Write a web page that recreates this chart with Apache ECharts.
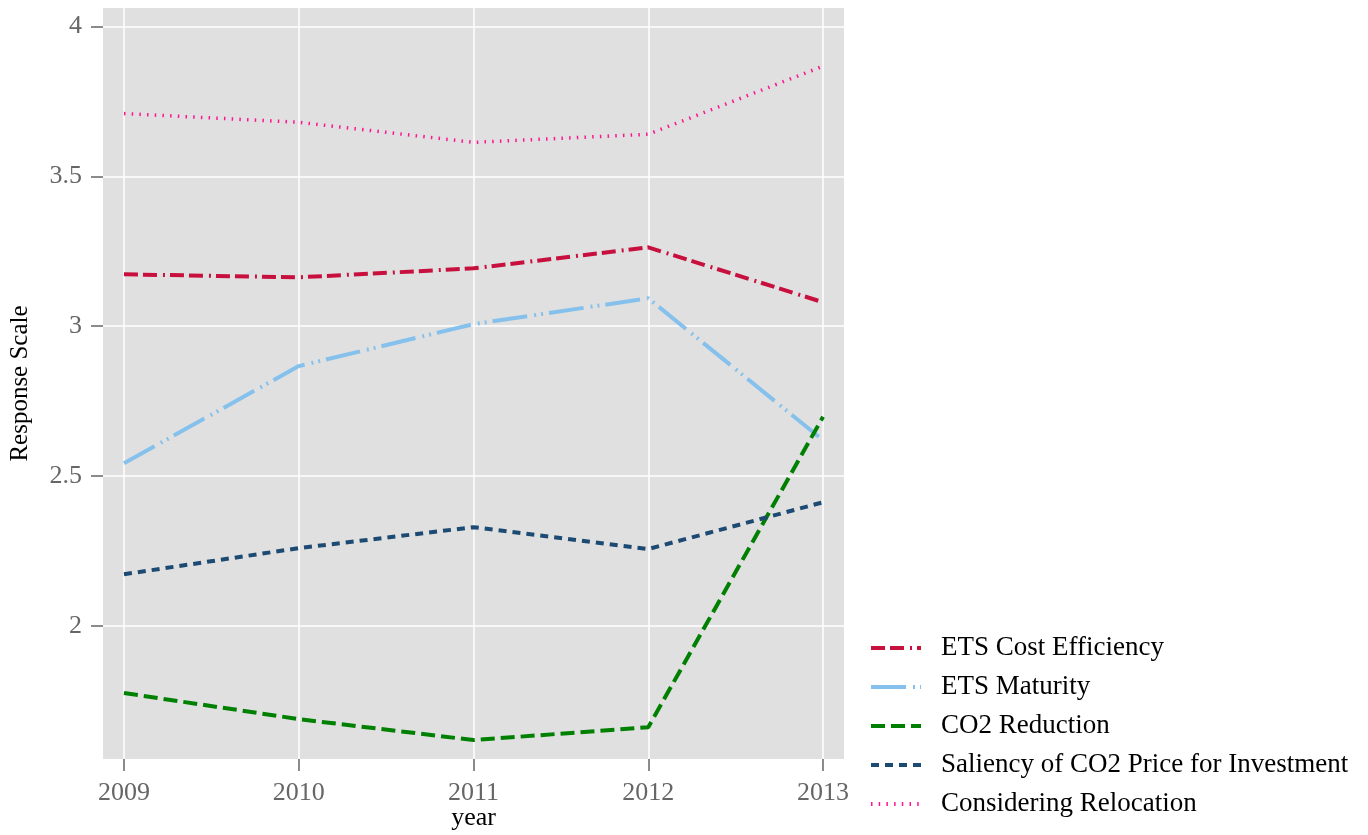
<!DOCTYPE html>
<html>
<head>
<meta charset="utf-8">
<script src="https://cdn.jsdelivr.net/npm/echarts@6/dist/echarts.min.js"></script>
<style>
  html, body { margin: 0; padding: 0; background: #fff; }
  #chart { width: 1368px; height: 835px; }
</style>
</head>
<body>
<div id="chart"></div>
<script>
// values
const years = [2009, 2010, 2011, 2012, 2013]
const yTicks = [2, 2.5, 3, 3.5, 4]
const costEfficiency = [3.173, 3.163, 3.193, 3.263, 3.080]
const maturity = [2.543, 2.867, 3.007, 3.093, 2.620]
const co2Reduction = [1.777, 1.690, 1.620, 1.663, 2.698]
const saliency = [2.173, 2.260, 2.330, 2.257, 2.413]
const relocation = [3.709, 3.680, 3.613, 3.640, 3.867]

const FONT = 'Liberation Serif'
const pairs = (vals) => years.map((y, i) => [y, vals[i]])

const makeSeries = (name, vals, color, width, dash) => ({
    name: name,
    type: 'line',
    data: pairs(vals),
    symbol: 'none',
    clip: false,
    animation: false,
    lineStyle: { color: color, width: width, type: dash, cap: 'butt' },
    itemStyle: { color: color }
})

const chart = echarts.init(document.getElementById('chart'))
chart.setOption({
    backgroundColor: '#fff',
    animation: false,
    grid: {
        left: 103,
        right: 524,
        top: 8,
        bottom: 76,
        outerBoundsMode: 'none',
        containLabel: false,
        show: true,
        backgroundColor: '#E0E0E0',
        borderWidth: 0
    },
    xAxis: {
        type: 'value',
        min: 2008.88,
        max: 2013.12,
        name: 'year',
        nameLocation: 'middle',
        nameGap: 46,
        nameMoveOverlap: false,
        nameTextStyle: { fontFamily: FONT, fontSize: 26, color: '#000' },
        axisLine: { show: false },
        axisTick: { show: true, length: 12, customValues: years, lineStyle: { color: '#666', width: 1.5 } },
        axisLabel: { customValues: years, margin: 21, fontFamily: FONT, fontSize: 26, color: '#666', formatter: (v) => String(v) },
        splitLine: { show: true, lineStyle: { color: '#fff', width: 1.5 } }
    },
    yAxis: {
        type: 'value',
        min: 1.557,
        max: 4.061,
        name: 'Response Scale',
        nameLocation: 'middle',
        nameRotate: 90,
        nameGap: 70,
        nameTextStyle: { fontFamily: FONT, fontSize: 25, color: '#000' },
        axisLine: { show: false },
        axisTick: { show: true, length: 12, customValues: yTicks, lineStyle: { color: '#666', width: 1.5 } },
        axisLabel: { customValues: yTicks, margin: 21, fontFamily: FONT, fontSize: 26, color: '#666' },
        splitLine: { show: true, lineStyle: { color: '#fff', width: 1.5 } }
    },
    legend: {
        orient: 'vertical',
        left: 869,
        top: 634,
        padding: 0,
        itemWidth: 50,
        itemHeight: 14,
        itemGap: 11,
        itemStyle: { opacity: 0 },
        lineStyle: { width: 4 },
        textStyle: { fontFamily: FONT, fontSize: 27, color: '#000', lineHeight: 28, padding: [0, 0, 0, 15] },
        data: ['ETS Cost Efficiency', 'ETS Maturity', 'CO2 Reduction',
               'Saliency of CO2 Price for Investment', 'Considering Relocation']
    },
    series: [
        makeSeries('ETS Cost Efficiency', costEfficiency, '#C8103E', 4, [14, 5, 14, 6, 2, 5]),
        makeSeries('ETS Maturity', maturity, '#85C1EC', 4, [35, 7, 2, 5, 2, 6]),
        makeSeries('CO2 Reduction', co2Reduction, '#008000', 4, [14, 6]),
        makeSeries('Saliency of CO2 Price for Investment', saliency, '#1C4A73', 4, [8, 6]),
        makeSeries('Considering Relocation', relocation, '#FF1493', 3.5, [1.5, 6.2])
    ]
})
window.addEventListener('resize', () => chart.resize())
</script>
</body>
</html>
